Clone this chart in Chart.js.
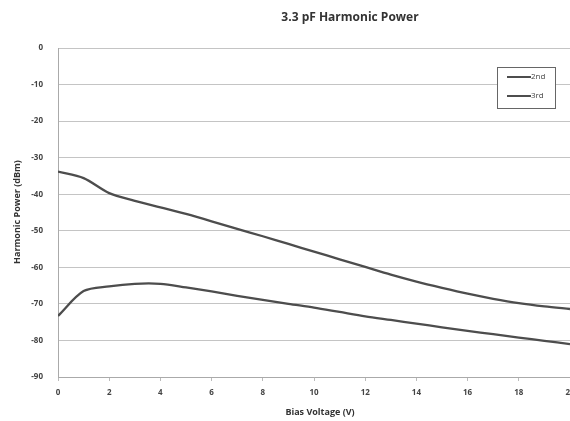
<!DOCTYPE html>
<html><head><meta charset="utf-8">
<script src="https://cdn.jsdelivr.net/npm/chart.js@4/dist/chart.umd.min.js"></script>
<style>
html,body{margin:0;padding:0;background:#fff;overflow:hidden;}
#wrap{width:570px;height:421px;overflow:hidden;position:relative;}
canvas{display:block;}
</style></head>
<body><div id="wrap"><canvas id="c" width="590" height="421" style="width:590px;height:421px"></canvas></div>
<script>
const title = "3.3 pF Harmonic Power";
const xTitle = "Bias Voltage (V)";
const yTitle = "Harmonic Power (dBm)";
const biasVoltage = [0,1,2,3,4,5,6,7,8,9,10,11,12,13,14,15,16,17,18,19,20];
const second = [-33.8,-35.6,-39.7,-41.8,-43.6,-45.4,-47.4,-49.5,-51.5,-53.6,-55.7,-57.8,-59.9,-62,-63.9,-65.6,-67.2,-68.6,-69.8,-70.7,-71.4];
const third = [-73.3,-66.5,-65.2,-64.5,-64.5,-65.5,-66.6,-67.8,-68.9,-70,-71,-72.2,-73.4,-74.4,-75.4,-76.4,-77.4,-78.3,-79.2,-80.1,-81];
const seriesNames = ["2nd","3rd"];

const lineColor = "#4d4d4d";
const toPts = arr => arr.map((v,i)=>({x:biasVoltage[i],y:v}));

const deco = {
  id:'deco',
  afterDraw(chart){
    const ctx = chart.ctx;
    ctx.save();
    ctx.fillStyle = '#333';
    ctx.font = 'bold 12px "Open Sans", sans-serif';
    ctx.textAlign = 'center'; ctx.textBaseline = 'middle';
    ctx.fillText(title, 350, 18);
    ctx.font = 'bold 9px "Open Sans", sans-serif';
    ctx.fillText(xTitle, 320, 412);
    ctx.translate(17, 212);
    ctx.rotate(-Math.PI/2);
    ctx.fillText(yTitle, 0, 0);
    ctx.restore();
    // legend
    ctx.save();
    const lx=497, ly=67, lw=58, lh=41;
    ctx.strokeStyle='#666'; ctx.lineWidth=1; ctx.fillStyle='#fff';
    ctx.fillRect(lx,ly,lw,lh);
    ctx.strokeRect(lx+0.5,ly+0.5,lw,lh);
    ctx.font = '8px "Open Sans", sans-serif';
    ctx.textAlign='left'; ctx.textBaseline='middle';
    seriesNames.forEach((n,i)=>{
      const yy = ly+10+i*19;
      ctx.strokeStyle=lineColor; ctx.lineWidth=2;
      ctx.beginPath(); ctx.moveTo(lx+10,yy); ctx.lineTo(lx+34,yy); ctx.stroke();
      ctx.fillStyle='#444'; ctx.fillText(n, lx+34, yy);
    });
    ctx.restore();
  }
};

new Chart(document.getElementById('c'), {
  type:'line',
  data:{datasets:[
    {label:seriesNames[0], data:toPts(second), borderColor:lineColor, borderWidth:2.3, pointRadius:0, tension:0.3, fill:false},
    {label:seriesNames[1], data:toPts(third), borderColor:lineColor, borderWidth:2.3, pointRadius:0, tension:0.3, fill:false}
  ]},
  plugins:[deco],
  options:{
    responsive:false, animation:false, devicePixelRatio:1,
    layout:{padding:{top:48,right:20,left:0,bottom:0}},
    plugins:{legend:{display:false}, title:{display:false}, tooltip:{enabled:false}},
    scales:{
      x:{type:'linear', min:0, max:20,
        ticks:{stepSize:2, color:'#444', font:{size:8, weight:'bold', family:'"Open Sans", sans-serif'}, maxRotation:0, padding:7},
        grid:{display:true, drawOnChartArea:false, drawTicks:true, tickLength:4, color:'#bbb'},
        border:{color:'#aaa'},
        afterFit(s){ s.height = 44; }
      },
      y:{min:-90, max:0,
        ticks:{stepSize:10, color:'#444', font:{size:8, weight:'bold', family:'"Open Sans", sans-serif'}, padding:15},
        grid:{color:'#c4c4c4', lineWidth:1, drawTicks:false},
        border:{color:'#aaa'},
        afterFit(s){ s.width = 58; }
      }
    }
  }
});
</script></body></html>
